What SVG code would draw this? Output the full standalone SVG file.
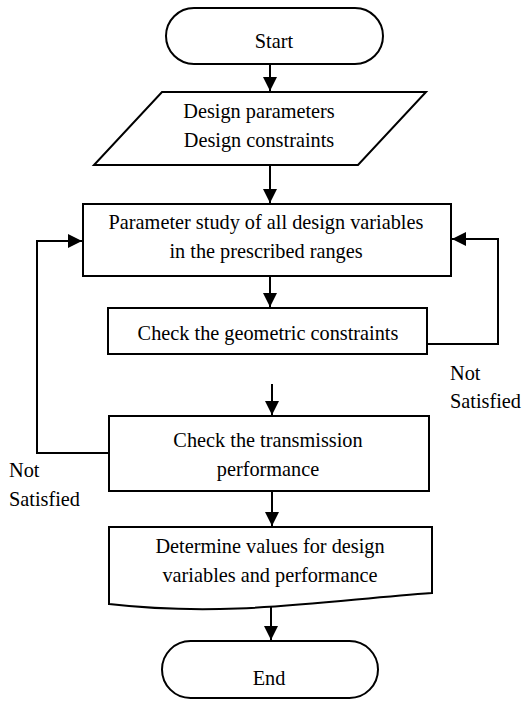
<svg xmlns="http://www.w3.org/2000/svg" width="530" height="701" viewBox="0 0 530 701">
<style>
.s{fill:#fff;stroke:#000;stroke-width:2}
.c{fill:none;stroke:#000;stroke-width:2}
</style>
<defs>
<marker id="ah" markerWidth="14" markerHeight="14" refX="14" refY="7" orient="auto" markerUnits="userSpaceOnUse">
<path d="M0,0 L14,7 L0,14 Z" fill="#000"/>
</marker>
</defs>
<rect width="530" height="701" fill="#fff"/>
<g id="connectors">
<line class="c" x1="270" y1="64" x2="270" y2="91" marker-end="url(#ah)"/>
<line class="c" x1="270" y1="165" x2="270" y2="203" marker-end="url(#ah)"/>
<line class="c" x1="270" y1="276" x2="270" y2="307" marker-end="url(#ah)"/>
<polyline class="c" points="427,344 498,344 498,239 452,239" marker-end="url(#ah)"/>
<line class="c" x1="272" y1="384" x2="272" y2="415" marker-end="url(#ah)"/>
<polyline class="c" points="109,453 37,453 37,241 82,241" marker-end="url(#ah)"/>
<line class="c" x1="272" y1="491" x2="272" y2="526" marker-end="url(#ah)"/>
<line class="c" x1="271" y1="607" x2="271" y2="640" marker-end="url(#ah)"/>
</g>
<g font-family="Liberation Serif, serif" font-size="20.3" fill="#000">
<g id="start">
<rect class="s" x="166" y="8" width="217" height="56" rx="28" ry="28"/>
<text x="274" y="48" text-anchor="middle">Start</text>
</g>
<g id="input">
<polygon class="s" points="162,92 426,92 358,165 94,165"/>
<text x="259" y="118" text-anchor="middle">Design parameters</text>
<text x="259" y="147" text-anchor="middle">Design constraints</text>
</g>
<g id="study">
<rect class="s" x="83" y="204" width="368" height="72"/>
<text x="266" y="229" text-anchor="middle">Parameter study of all design variables</text>
<text x="266" y="258" text-anchor="middle">in the prescribed ranges</text>
</g>
<g id="geom">
<rect class="s" x="108" y="308" width="319" height="46"/>
<text x="268" y="340" text-anchor="middle">Check the geometric constraints</text>
</g>
<g id="label-right">
<text x="450" y="380">Not</text>
<text x="450" y="408">Satisfied</text>
</g>
<g id="trans">
<rect class="s" x="109" y="416" width="320" height="75"/>
<text x="268" y="447" text-anchor="middle">Check the transmission</text>
<text x="268" y="476" text-anchor="middle">performance</text>
</g>
<g id="label-left">
<text x="9" y="477">Not</text>
<text x="9" y="506">Satisfied</text>
</g>
<g id="output">
<path class="s" d="M109,527 L432,527 L432,593 C330,600 230,618 109,604 Z"/>
<text x="270" y="553" text-anchor="middle">Determine values for design</text>
<text x="270" y="582" text-anchor="middle">variables and performance</text>
</g>
<g id="end">
<rect class="s" x="162" y="641" width="216" height="57" rx="28.5" ry="28.5"/>
<text x="269" y="685" text-anchor="middle">End</text>
</g>
</g>
</svg>
